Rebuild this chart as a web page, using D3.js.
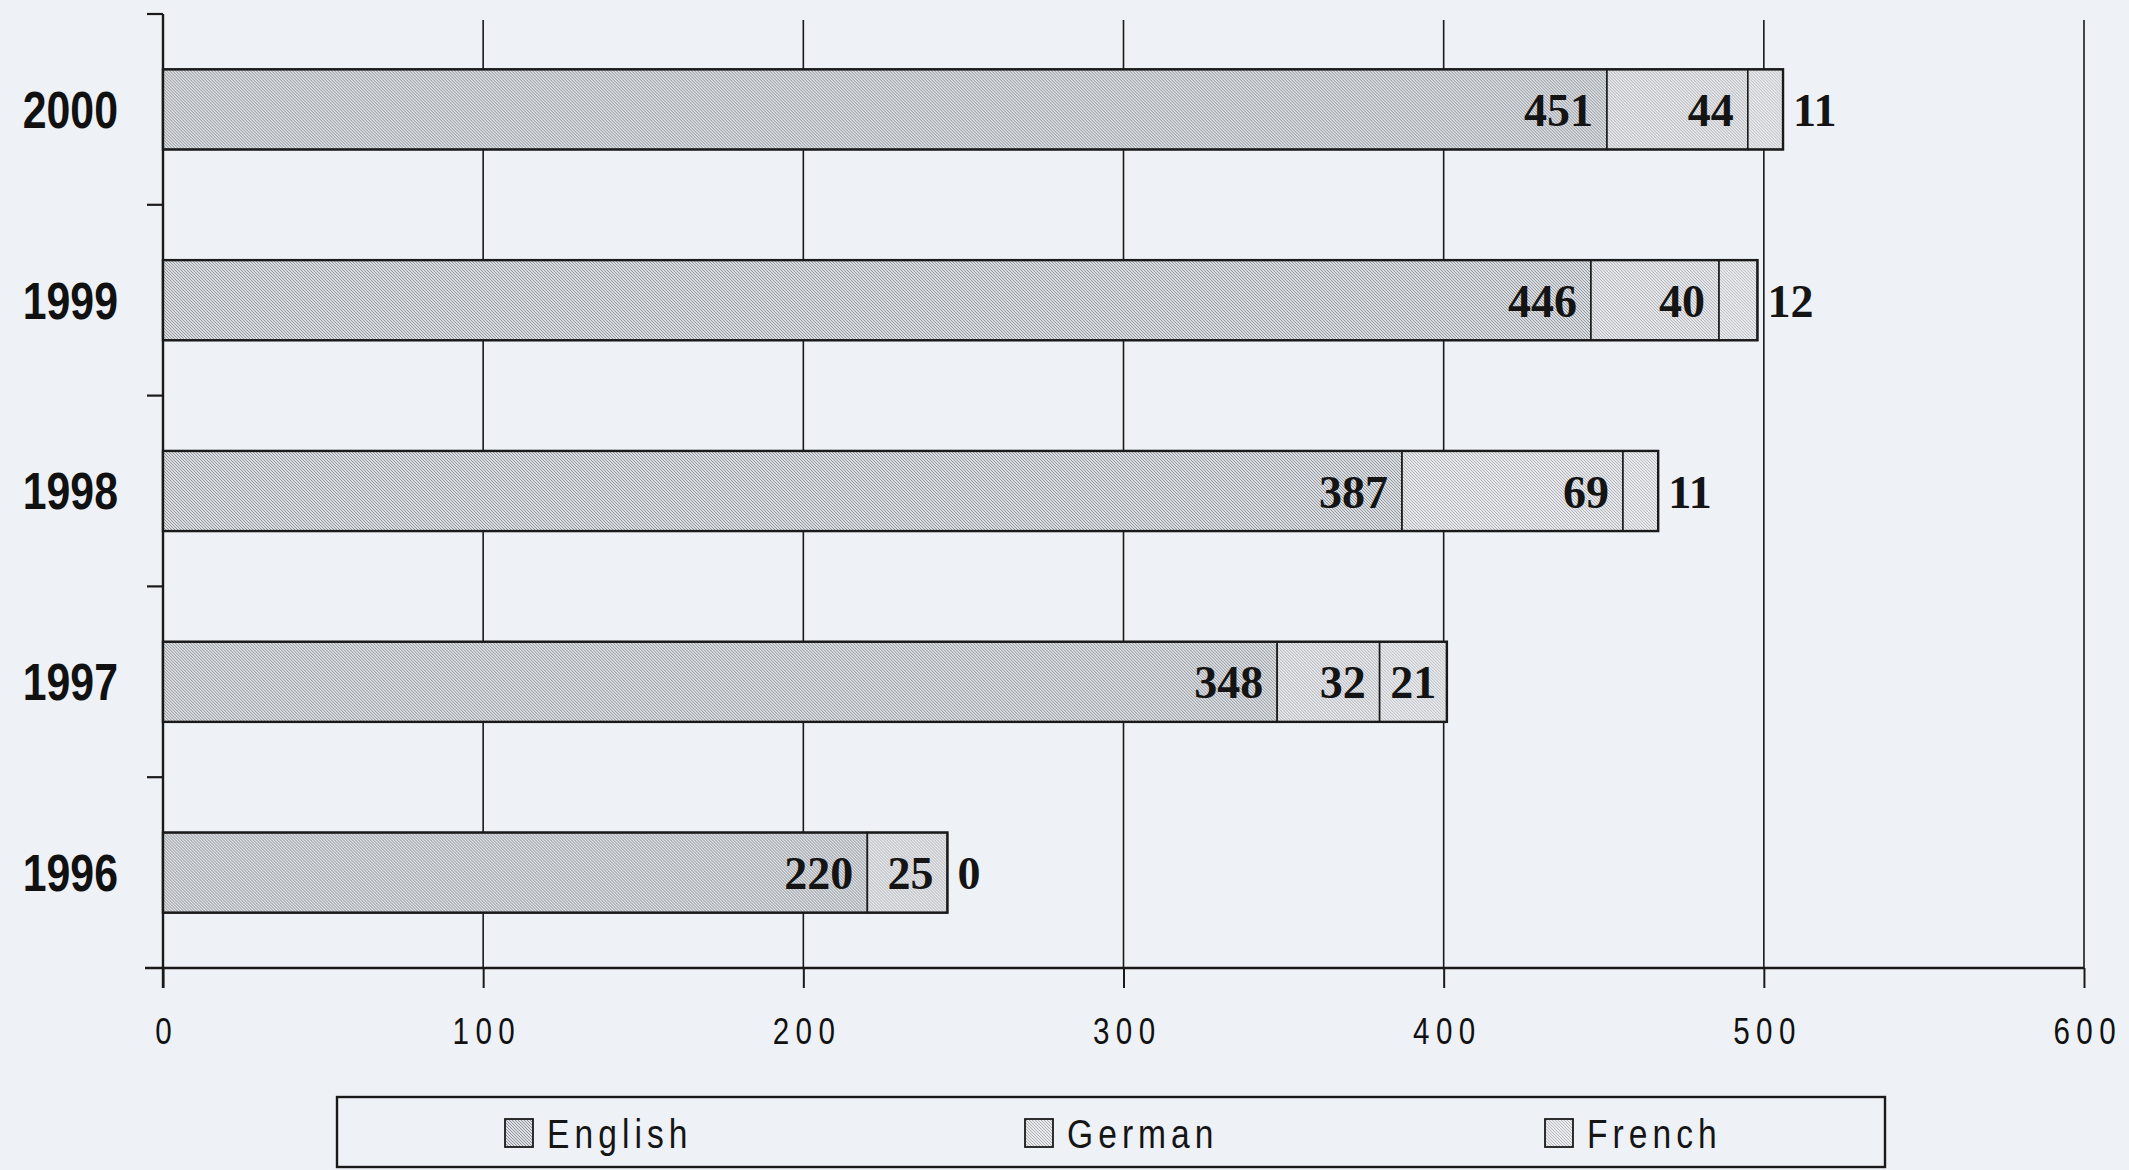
<!DOCTYPE html>
<html>
<head>
<meta charset="utf-8">
<script src="https://cdn.jsdelivr.net/npm/d3@7"></script>
<style>
  body { margin: 0; background: #eef1f6; }
  svg { display: block; }
  .narrow { font-family: "Liberation Sans", Arial, sans-serif; }
</style>
</head>
<body>
<div id="graph"></div>
<script>
// data
var years   = ["2000", "1999", "1998", "1997", "1996"];
var english = [451, 446, 387, 348, 220];
var german  = [44, 40, 69, 32, 25];
var french  = [11, 12, 11, 21, 0];
var series  = ["English", "German", "French"];
var xTicks  = [0, 100, 200, 300, 400, 500, 600];

var width = 2129, height = 1170;
var squeeze = 0.84;   // fake an Arial Narrow look

var svg = d3.select("#graph").append("svg")
    .attr("width", width)
    .attr("height", height);

svg.append("rect").attr("width", width).attr("height", height).attr("fill", "#eef1f6");

// hatch patterns, one per series
var defs = svg.append("defs");
function hatch(id, bg, ink, w, s) {
  var p = defs.append("pattern")
      .attr("id", id)
      .attr("patternUnits", "userSpaceOnUse")
      .attr("width", s).attr("height", s);
  p.append("rect").attr("width", s).attr("height", s).attr("fill", bg);
  p.append("path")
      .attr("d", "M0,0L" + s + "," + s + "M-1," + (s - 1) + "L1," + (s + 1) + "M" + (s - 1) + ",-1L" + (s + 1) + ",1")
      .attr("stroke", ink).attr("stroke-width", w);
}
hatch("pEnglish", "#dde0e4", "#8e9196", 1.0, 3);
hatch("pGerman",  "#e6e8eb", "#a2a5a9", 0.8, 3);
hatch("pFrench",  "#e8eaed", "#a6a9ad", 0.7, 3);
var fills = ["url(#pEnglish)", "url(#pGerman)", "url(#pFrench)"];

var rows = years.map(function(y, i) {
  return { year: y, vals: [english[i], german[i], french[i]] };
});

var xScale = d3.scaleLinear().domain([0, 600]).range([163, 2084]);
var yScale = d3.scaleBand().domain(years).range([14, 968])
    .paddingInner(0.58).paddingOuter(0.29);

var x0 = xScale(0), yBottom = yScale.range()[1];

// vertical gridlines
var grid = svg.append("g");
grid.selectAll("line")
    .data(xTicks.slice(1))
    .enter().append("line")
    .attr("x1", function(d) { return xScale(d); })
    .attr("x2", function(d) { return xScale(d); })
    .attr("y1", yScale.range()[0] + 6)
    .attr("y2", yBottom)
    .attr("stroke", "#1a1a1a")
    .attr("stroke-width", 1.6);

// x axis
var xAxis = svg.append("g")
    .attr("class", "narrow")
    .attr("transform", "translate(0," + yBottom + ")")
    .call(d3.axisBottom(xScale).tickValues(xTicks).tickSize(20).tickSizeOuter(0).tickPadding(30));
xAxis.select(".domain").remove();
xAxis.selectAll("line").attr("stroke", "#1a1a1a").attr("stroke-width", 2);
xAxis.selectAll("text")
    .attr("fill", "#111")
    .attr("transform", "scale(0.8,1)")
    .attr("x", 4)
    .style("font-size", "37px")
    .style("letter-spacing", "8px");

svg.append("line")
    .attr("x1", x0 - 18).attr("x2", xScale(600))
    .attr("y1", yBottom).attr("y2", yBottom)
    .attr("stroke", "#1a1a1a").attr("stroke-width", 2.6);

// y axis line and boundary ticks
svg.append("line")
    .attr("x1", x0).attr("x2", x0)
    .attr("y1", yScale.range()[0]).attr("y2", yBottom + 20)
    .attr("stroke", "#1a1a1a").attr("stroke-width", 2.4);

svg.selectAll(".ytick")
    .data(d3.range(years.length))
    .enter().append("line")
    .attr("class", "ytick")
    .attr("x1", x0 - 16).attr("x2", x0)
    .attr("y1", function(i) { return yScale.range()[0] + i * yScale.step(); })
    .attr("y2", function(i) { return yScale.range()[0] + i * yScale.step(); })
    .attr("stroke", "#1a1a1a").attr("stroke-width", 2.2);

svg.selectAll(".ylab")
    .data(years)
    .enter().append("text")
    .attr("class", "ylab narrow")
    .attr("transform", function(d) {
      return "translate(118," + (yScale(d) + yScale.bandwidth() / 2) + ") scale(" + squeeze + ",1)";
    })
    .attr("dy", "0.36em")
    .attr("text-anchor", "end")
    .attr("font-weight", "bold")
    .attr("font-size", "51px")
    .attr("fill", "#111")
    .text(function(d) { return d; });

// stacked bars
var bars = svg.selectAll(".row")
    .data(rows)
    .enter().append("g")
    .attr("class", "row")
    .attr("transform", function(d) { return "translate(0," + yScale(d.year) + ")"; });

bars.each(function(d) {
  var g = d3.select(this);
  var acc = 0;
  var bh = yScale.bandwidth();
  d.vals.forEach(function(v, k) {
    var a = acc, b = acc + v;
    acc = b;
    if (v > 0) {
      g.append("rect")
        .attr("x", xScale(a)).attr("y", 0)
        .attr("width", xScale(b) - xScale(a))
        .attr("height", bh)
        .attr("fill", fills[k])
        .attr("stroke", "#1a1a1a")
        .attr("stroke-width", 1.6);
    }
    var segW = xScale(b) - xScale(a);
    var lx, anchor;
    if (k < 2) {
      lx = xScale(b) - 14; anchor = "end";
    } else if (segW >= 50) {
      lx = (xScale(a) + xScale(b)) / 2; anchor = "middle";
    } else {
      lx = xScale(b) + 10; anchor = "start";
    }
    g.append("text")
      .attr("x", lx)
      .attr("y", bh / 2)
      .attr("dy", "0.36em")
      .attr("text-anchor", anchor)
      .attr("font-family", "'Liberation Serif', 'Times New Roman', serif")
      .attr("font-weight", "bold")
      .attr("font-size", "46px")
      .attr("fill", "#141414")
      .text(v);
  });
  // outline of the whole bar a bit heavier
  g.append("rect")
    .attr("x", x0).attr("y", 0)
    .attr("width", xScale(acc) - x0).attr("height", bh)
    .attr("fill", "none")
    .attr("stroke", "#1a1a1a")
    .attr("stroke-width", 2.4);
});

// legend
var legend = svg.append("g");
legend.append("rect")
    .attr("x", 337).attr("y", 1097)
    .attr("width", 1548).attr("height", 70)
    .attr("fill", "#eef1f6")
    .attr("stroke", "#1a1a1a")
    .attr("stroke-width", 2.4);

var legX = d3.scalePoint().domain(series).range([505, 1545]);

var items = legend.selectAll(".leg")
    .data(series)
    .enter().append("g")
    .attr("class", "leg")
    .attr("transform", function(d) { return "translate(" + legX(d) + ",1119)"; });

items.append("rect")
    .attr("width", 28).attr("height", 28)
    .attr("fill", function(d, i) { return fills[i]; })
    .attr("stroke", "#1a1a1a").attr("stroke-width", 1.8);

items.append("text")
    .attr("class", "narrow")
    .attr("transform", "translate(42,29) scale(" + squeeze + ",1)")
    .attr("font-size", "40px")
    .attr("letter-spacing", "6px")
    .attr("fill", "#151515")
    .text(function(d) { return d; });
</script>
</body>
</html>
